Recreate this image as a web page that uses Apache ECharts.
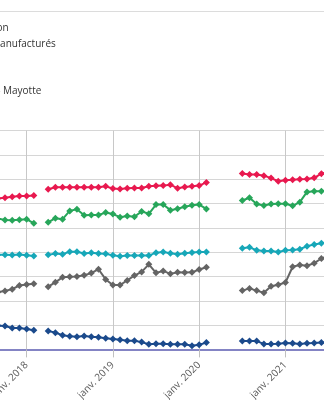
<!DOCTYPE html>
<html>
<head>
<meta charset="utf-8">
<script src="https://cdn.jsdelivr.net/npm/echarts@6/dist/echarts.min.js"></script>
<style>
html,body{margin:0;padding:0;background:#fff;}
#c{width:324px;height:400px;}
</style>
</head>
<body>
<div id="c"></div>
<script>
var categories = [
  "sept. 2017","oct. 2017","nov. 2017","déc. 2017",
  "janv. 2018","févr. 2018","mars 2018","avr. 2018","mai 2018","juin 2018","juil. 2018","août 2018","sept. 2018","oct. 2018","nov. 2018","déc. 2018",
  "janv. 2019","févr. 2019","mars 2019","avr. 2019","mai 2019","juin 2019","juil. 2019","août 2019","sept. 2019","oct. 2019","nov. 2019","déc. 2019",
  "janv. 2020","févr. 2020","mars 2020","avr. 2020","mai 2020","juin 2020","juil. 2020","août 2020","sept. 2020","oct. 2020","nov. 2020","déc. 2020",
  "janv. 2021","févr. 2021","mars 2021","avr. 2021","mai 2021","juin 2021","juil. 2021"
];
var seriesNames = ["Alimentation", "Produits manufacturés", "Énergie", "Services", "Ensemble - Mayotte"];
var alimentation = [62.1,62.4,62.8,63.1,63.1,63.3,null,65.9,66.7,66.7,66.7,66.7,66.7,66.7,66.7,67.1,66.2,66.0,66.3,66.4,66.4,67.1,67.3,67.4,67.8,66.3,66.8,67.1,67.4,68.7,null,null,null,null,72.4,72.0,72.0,71.5,70.5,69.2,69.6,69.8,70.0,70.1,70.6,72.3,73.0];
var manufactures = [53.8,53.3,53.1,53.4,53.6,51.9,null,52.3,54.0,53.6,57.0,57.7,55.2,55.3,55.3,56.3,55.7,54.4,54.9,54.6,56.8,55.8,59.6,59.6,57.3,57.9,58.7,59.3,59.6,57.8,null,null,null,null,61.3,62.4,59.8,59.2,59.8,59.9,59.9,59.1,60.6,64.8,65.1,65.1,65.2];
var energie = [39.0,39.0,38.8,39.1,38.7,38.4,null,38.9,39.5,39.2,40.2,40.2,39.5,39.8,39.5,39.4,38.7,38.3,38.6,38.6,38.6,38.6,39.8,40.1,39.6,39.2,39.6,39.9,40.1,40.1,null,null,null,null,41.6,42.0,40.8,40.5,40.5,40.1,40.8,40.9,41.2,42.5,43.2,43.7,44.0];
var services = [23.6,24.0,24.8,26.3,26.7,27.0,null,25.8,27.6,29.7,29.9,30.0,30.5,31.4,33.0,28.8,26.5,26.5,28.4,30.4,31.9,35.0,31.5,32.3,31.1,31.7,31.6,31.7,32.9,33.8,null,null,null,null,24.2,25.1,24.2,23.3,26.0,26.6,27.5,34.0,34.7,34.4,35.5,37.4,38.4];
var ensemble = [9.8,9.6,8.8,8.8,8.4,7.9,null,7.6,6.9,5.8,5.4,5.2,5.5,5.2,5.0,4.6,4.3,4.0,3.6,3.6,3.0,2.1,2.3,2.3,2.1,2.1,2.1,1.5,1.9,2.8,null,null,null,null,3.5,3.5,3.5,2.2,2.2,2.3,2.6,2.5,2.2,2.5,2.6,2.8,2.8];
var colors = ["#e8194f", "#27a65a", "#17a7b8", "#646464", "#1b4a8c"];

var font = "'Open Sans', 'DejaVu Sans', sans-serif";
function isJan(idx, val) { return String(val).indexOf("janv.") === 0; }

var allData = [alimentation, manufactures, energie, services, ensemble];
var series = allData.map(function (d, i) {
  return {
    name: seriesNames[i],
    type: "line",
    data: d,
    connectNulls: false,
    symbol: "diamond",
    symbolSize: 7,
    showAllSymbol: true,
    itemStyle: { color: colors[i] },
    lineStyle: { color: colors[i], width: 2 },
    emphasis: { disabled: true }
  };
});

var chart = echarts.init(document.getElementById("c"), null, { renderer: "canvas" });
chart.setOption({
  animation: false,
  textStyle: { fontFamily: font },
  color: colors,
  legend: {
    orient: "vertical",
    left: -82,
    top: 22.5,
    padding: 0,
    itemWidth: 25,
    itemHeight: 12,
    itemGap: 3.75,
    data: seriesNames,
    textStyle: { fontFamily: font, fontSize: 10, color: "#333", lineHeight: 12 }
  },
  graphic: [{
    type: "line",
    shape: { x1: 0, y1: 11.5, x2: 324, y2: 11.5 },
    style: { stroke: "#dcdcdc", lineWidth: 1 },
    silent: true
  }],
  grid: {
    left: -2.16,
    right: -4.58,
    top: 130.7,
    bottom: 50.6,
    containLabel: false,
    outerBoundsMode: "none"
  },
  xAxis: {
    type: "category",
    data: categories,
    boundaryGap: false,
    axisLine: { show: true, lineStyle: { color: "#8484c4", width: 2 } },
    axisTick: { show: true, interval: isJan, length: 8, lineStyle: { color: "#c0c0c0" } },
    axisLabel: { interval: isJan, rotate: 45, margin: 14, fontSize: 10, color: "#595959", fontFamily: font },
    splitLine: { show: true, interval: isJan, lineStyle: { color: "#c8c8c8", width: 1 } }
  },
  yAxis: {
    type: "value",
    min: 0,
    max: 90,
    interval: 10,
    axisLabel: { show: false },
    axisLine: { show: false },
    axisTick: { show: false },
    splitLine: { show: true, lineStyle: { color: "#d6d6d6", width: 1 } }
  },
  series: series
});
</script>
</body>
</html>
